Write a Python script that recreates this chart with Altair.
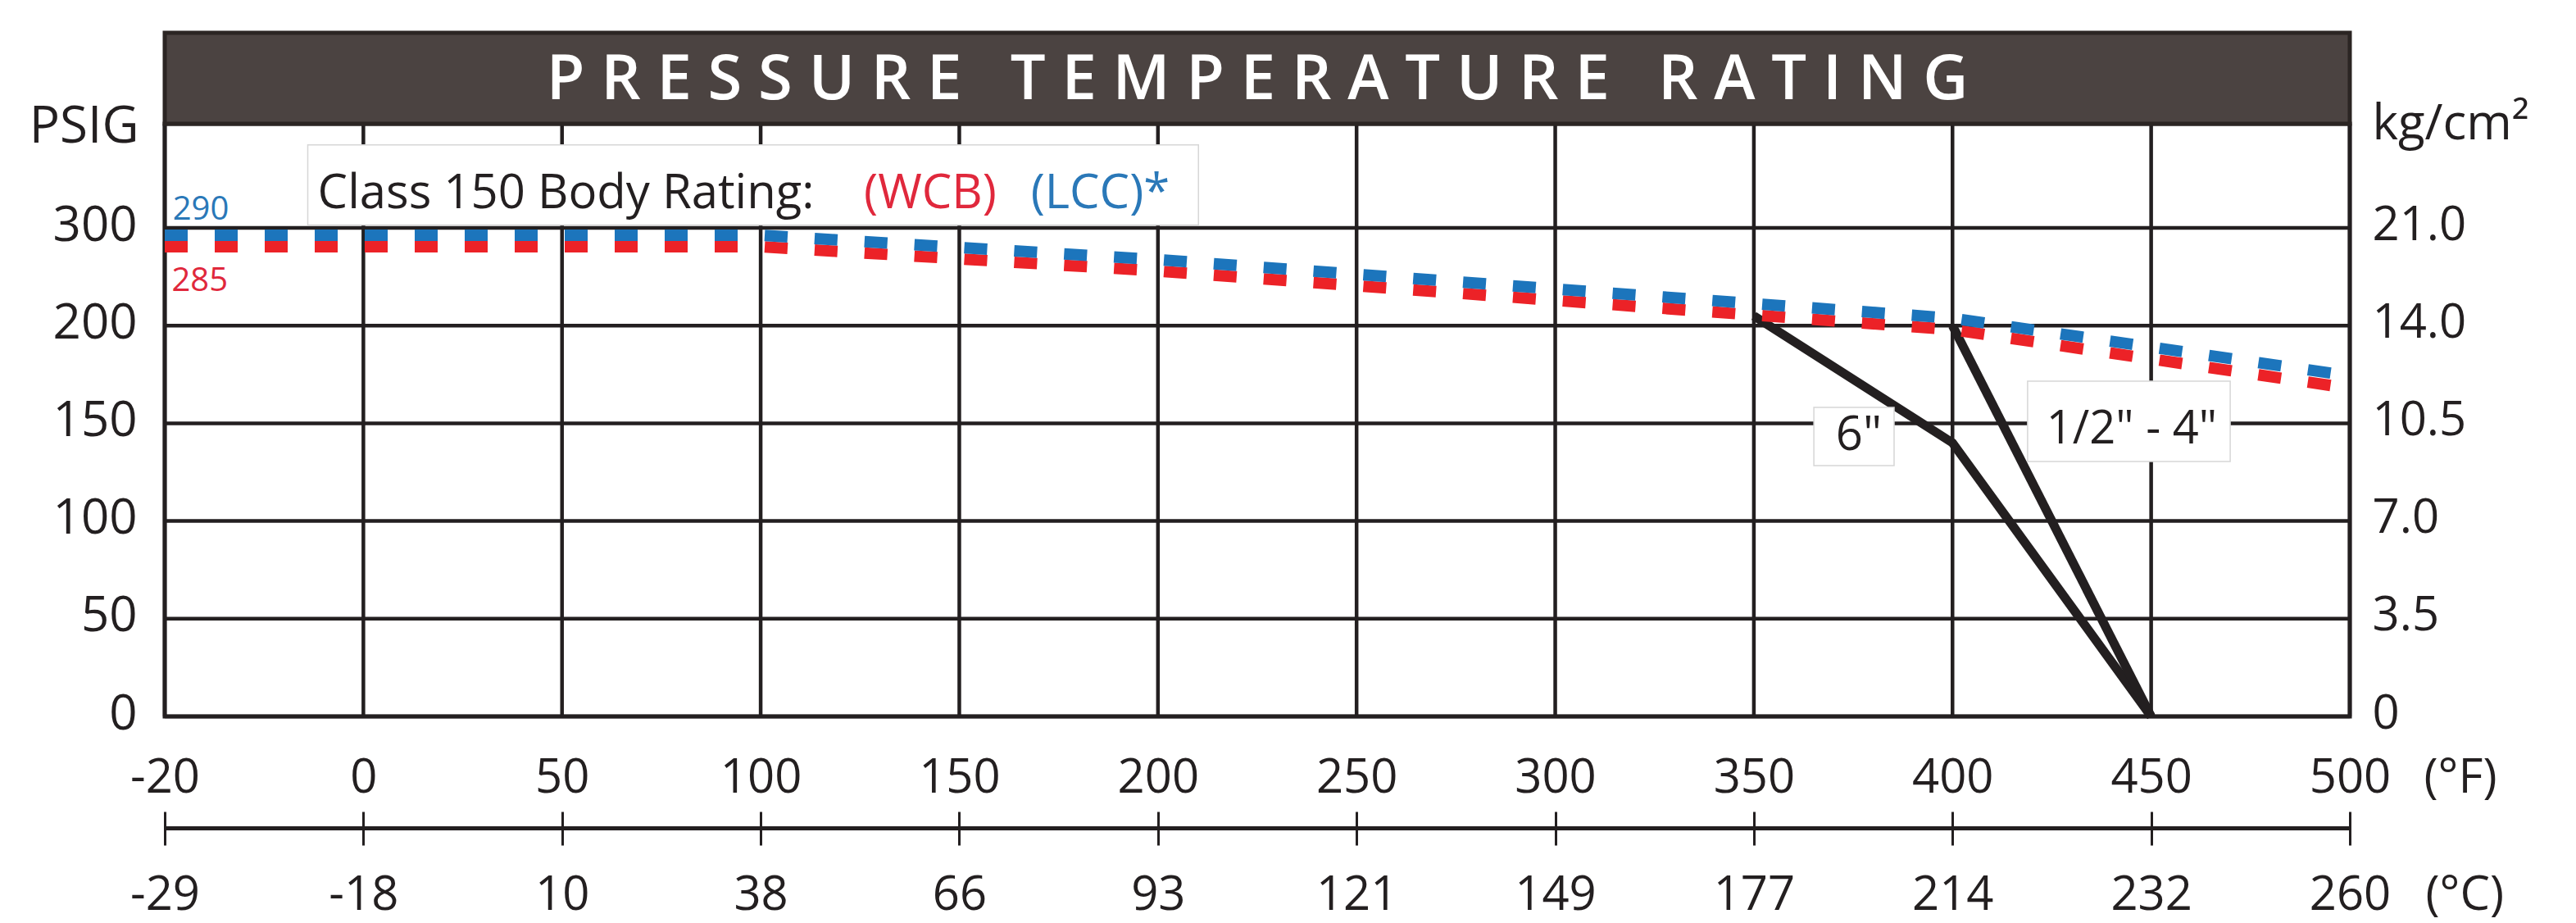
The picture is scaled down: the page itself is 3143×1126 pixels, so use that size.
import json
import altair as alt
import pandas as pd

# ---------------- data ----------------
temps_f = [-20, 100, 200, 300, 400, 500]
wcb_psig = [285, 285, 260, 230, 200, 170]
lcc_psig = [290, 290, 265, 235, 205, 173]

six_in_temps = [350, 400, 450]
six_in_psig = [210, 140, 0]
small_temps = [400, 450]
small_psig = [200, 0]

f_ticks = [-20, 0, 50, 100, 150, 200, 250, 300, 350, 400, 450, 500]
f_labels = ["-20", "0", "50", "100", "150", "200", "250", "300", "350", "400", "450", "500"]
c_labels = ["-29", "-18", "10", "38", "66", "93", "121", "149", "177", "214", "232", "260"]
psig_ticks = [0, 50, 100, 150, 200, 300]
psig_labels = ["0", "50", "100", "150", "200", "300"]
kg_labels = ["0", "3.5", "7.0", "10.5", "14.0", "21.0"]

chart_title = "PRESSURE TEMPERATURE RATING"
legend_intro = "Class 150 Body Rating:"
legend_wcb = "(WCB)"
legend_lcc = "(LCC)*"
wcb_start_label = "285"
lcc_start_label = "290"
six_label = '6"'
small_label = '1/2" - 4"'

# ---------------- style / layout ----------------
FONT = "Open Sans"
INK = "#231f20"
RED = "#ec2227"
BLUE = "#1c75bc"
RED_TXT = "#e0283c"
BLUE_TXT = "#2a78b8"
BAND = "#4b4341"
BAND_EDGE = "#2b2523"

W = 2666
H = 723
UX = W / 11.0
UY = 119.2

xs = alt.Scale(domain=[-20, 0, 500], range=[0, UX, W], nice=False, zero=False)
ys = alt.Scale(domain=[0, 200, 300], range=[H, H - 4 * UY, H - 5 * UY], nice=False, zero=False)


def lookup(values, labels):
    return f"{json.dumps(labels)}[indexof({json.dumps(values)}, datum.value)]"


ax_f = alt.Axis(
    orient="bottom", values=f_ticks, labelExpr=lookup(f_ticks, f_labels),
    grid=False, domain=False, ticks=False, tickSize=0,
    labelFontSize=58, labelBaseline="alphabetic", labelPadding=92, labelAngle=0,
    labelFlush=False, labelOverlap=False,
    title="(°F)", titleFontSize=58, titleFontWeight="normal", titleAlign="left",
    titleBaseline="alphabetic", titleX=2756, titleY=92, titleAngle=0,
)
ax_left = alt.Axis(
    orient="left", values=psig_ticks, labelExpr=lookup(psig_ticks, psig_labels),
    grid=False, domain=False, ticks=False, tickSize=0,
    labelFontSize=60, labelBaseline="alphabetic", labelOffset=15, labelPadding=34,
    labelOverlap=False,
    title="PSIG", titleFontSize=62, titleFontWeight="normal", titleAngle=0,
    titleAlign="right", titleBaseline="alphabetic", titleX=-32, titleY=22,
)
ax_c = alt.Axis(
    orient="bottom", offset=116, values=f_ticks, labelExpr=lookup(f_ticks, c_labels),
    grid=False, domain=False, ticks=True, tickSize=41, tickWidth=3, tickColor=INK,
    labelFontSize=58, labelBaseline="alphabetic", labelPadding=78, labelAngle=0,
    labelFlush=False, labelOverlap=False,
    title="(°C)", titleFontSize=58, titleFontWeight="normal", titleAlign="left",
    titleBaseline="alphabetic", titleX=2758, titleY=119, titleAngle=0,
)
ax_right = alt.Axis(
    orient="right", values=psig_ticks, labelExpr=lookup(psig_ticks, kg_labels),
    grid=False, domain=False, ticks=False, tickSize=0,
    labelFontSize=58, labelBaseline="alphabetic", labelOffset=14, labelPadding=27,
    labelAlign="left", labelOverlap=False,
    title="kg/cm²", titleFontSize=60, titleFontWeight="normal", titleAngle=0,
    titleAlign="left", titleBaseline="alphabetic", titleX=27, titleY=18,
)
ax_cline = alt.Axis(
    orient="bottom", offset=136, values=f_ticks, grid=False, domain=True,
    domainColor=INK, domainWidth=5, ticks=False, labels=False, title=None,
)

# grid lines drawn as rules from the tick lists
grid_x = alt.Chart(pd.DataFrame({"temp": f_ticks})).mark_rule(
    color=INK, strokeWidth=4.5
).encode(x=alt.X("temp:Q", scale=xs, axis=ax_f))
grid_y = alt.Chart(pd.DataFrame({"psig": psig_ticks})).mark_rule(
    color=INK, strokeWidth=4.5
).encode(y=alt.Y("psig:Q", scale=ys, axis=ax_left))

wcb_df = pd.DataFrame({"temp": temps_f, "psig": wcb_psig})
lcc_df = pd.DataFrame({"temp": temps_f, "psig": lcc_psig})
seat_df = pd.DataFrame({
    "temp": six_in_temps + small_temps,
    "psig": six_in_psig + small_psig,
    "size": [six_label] * len(six_in_temps) + [small_label] * len(small_temps),
})

seat = alt.Chart(seat_df).mark_line(color=INK, strokeWidth=11).encode(
    x=alt.X("temp:Q", scale=xs, axis=ax_cline),
    y=alt.Y("psig:Q", scale=ys, axis=None),
    detail="size:N",
)
red = alt.Chart(wcb_df).mark_line(
    color=RED, strokeWidth=14, strokeDash=[28, 33], strokeCap="butt", yOffset=5
).encode(
    x=alt.X("temp:Q", scale=xs, axis=None),
    y=alt.Y("psig:Q", scale=ys, axis=None),
)
blue = alt.Chart(lcc_df).mark_line(
    color=BLUE, strokeWidth=14, strokeDash=[28, 33], strokeCap="butt", yOffset=-3
).encode(
    x=alt.X("temp:Q", scale=xs, axis=ax_c),
    y=alt.Y("psig:Q", scale=ys, axis=ax_right),
)


def box(x1, x2, y1, y2):
    return alt.Chart(pd.DataFrame({"k": [0]})).mark_rect(
        fill="white", stroke="#d6d6d6", strokeWidth=1.5
    ).encode(
        x=alt.XDatum(datum=x1, type="quantitative", scale=xs, axis=None),
        x2=alt.X2Datum(datum=x2),
        y=alt.YDatum(datum=y1, type="quantitative", scale=ys, axis=None),
        y2=alt.Y2Datum(datum=y2),
    )


def label(text, x, y, size, color, align="left"):
    return alt.Chart(pd.DataFrame({"label": [text]})).mark_text(
        font=FONT, fontSize=size, color=color, align=align, baseline="alphabetic"
    ).encode(
        x=alt.XDatum(datum=x, type="quantitative", scale=xs, axis=None),
        y=alt.YDatum(datum=y, type="quantitative", scale=ys, axis=None),
        text="label:N",
    )


legend_box = box(-5.6, 210.2, 303, 385)
six_box = box(365.1, 385.3, 128.4, 158.1)
small_box = box(418.9, 469.9, 130.5, 171.6)

texts = [
    label(legend_intro, -4.6, 320, 58, INK),
    label(legend_wcb, 126, 320, 58, RED_TXT),
    label(legend_lcc, 168, 320, 58, BLUE_TXT),
    label(lcc_start_label, -19.2, 308.4, 40, BLUE_TXT),
    label(wcb_start_label, -19.3, 235.4, 40, RED_TXT),
    label(six_label, 376.4, 136.3, 58, INK, "center"),
    label(small_label, 445.1, 139.7, 56, INK, "center"),
]

spaced_title = " \u00a0 ".join(" ".join(word) for word in chart_title.split(" "))
title_df = pd.DataFrame({"label": [spaced_title]})
band = alt.Chart(title_df).mark_rect(fill=BAND, stroke=BAND_EDGE, strokeWidth=5).encode(
    x=alt.value(0), x2=alt.value("width"), y=alt.value(-111), y2=alt.value(0)
)
band_text = alt.Chart(title_df).mark_text(
    font=FONT, fontSize=76, fontWeight=600, color="white", align="center", baseline="middle"
).encode(x=alt.value(W / 2), y=alt.value(-53), text="label:N")

chart = alt.layer(
    grid_x, grid_y, seat, red, blue, legend_box, six_box, small_box, *texts, band, band_text
).resolve_scale(
    x="independent", y="independent"
).properties(
    width=W, height=H,
    padding={"left": 27, "top": 29, "right": 10, "bottom": 10},
    background="white",
).configure_view(
    stroke=INK, strokeWidth=5
).configure_axis(
    labelFont=FONT, titleFont=FONT, labelColor=INK, titleColor=INK
)

chart.save("out.html", embed_options={"renderer": "svg", "actions": False})
